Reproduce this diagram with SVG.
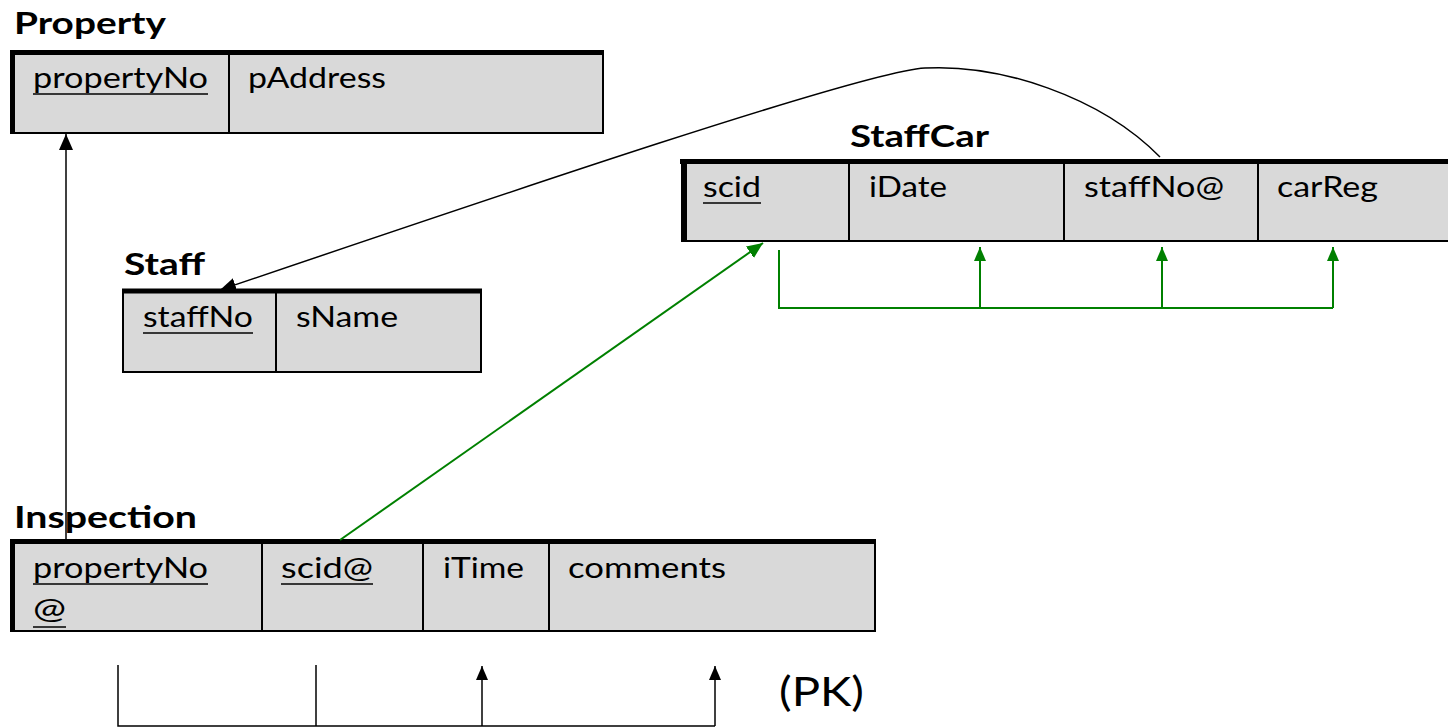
<svg xmlns="http://www.w3.org/2000/svg" width="1448" height="728" viewBox="0 0 1448 728">
  <style>
    .cell { fill: #d9d9d9; stroke: #000; stroke-width: 2; }
    .heavy { stroke: #000; stroke-width: 5; }
    .div { stroke: #000; stroke-width: 2; }
    .title { font-family: Lato, "Liberation Sans", sans-serif; font-weight: bold; font-size: 31px; fill: #000; }
    .attr { font-family: Lato, "Liberation Sans", sans-serif; font-size: 29px; fill: #000; }
    .pk { font-family: Lato, "Liberation Sans", sans-serif; font-size: 40px; fill: #000; }
    .ul { stroke: #000; stroke-width: 1.5; }
    .fk { fill: none; stroke: #000; stroke-width: 1.5; }
    .fd { fill: none; stroke: #008000; stroke-width: 2; }
    .bfd { fill: none; stroke: #000; stroke-width: 1.5; }
  </style>
  <defs>
    <marker id="arrowBlack" markerUnits="userSpaceOnUse" markerWidth="16" markerHeight="14" refX="16" refY="7" orient="auto">
      <path d="M0,0 L16,7 L0,14 z" fill="#000"/>
    </marker>
    <marker id="arrowBlackSmall" markerUnits="userSpaceOnUse" markerWidth="14" markerHeight="12" refX="14" refY="6" orient="auto">
      <path d="M0,0 L14,6 L0,12 z" fill="#000"/>
    </marker>
    <marker id="arrowGreen" markerUnits="userSpaceOnUse" markerWidth="16" markerHeight="14" refX="16" refY="7" orient="auto">
      <path d="M0,0 L16,7 L0,14 z" fill="#008000"/>
    </marker>
    <marker id="arrowGreenSmall" markerUnits="userSpaceOnUse" markerWidth="14" markerHeight="12" refX="14" refY="6" orient="auto">
      <path d="M0,0 L14,6 L0,12 z" fill="#008000"/>
    </marker>
  </defs>

  <rect width="1448" height="728" fill="#fff"/>

  <!-- Property relation -->
  <g id="property">
    <text class="title" x="14" y="34" textLength="152" lengthAdjust="spacingAndGlyphs">Property</text>
    <rect class="cell" x="12" y="52" width="591" height="81"/>
    <line class="heavy" x1="10" y1="52.5" x2="604" y2="52.5"/>
    <line class="heavy" x1="12.5" y1="50" x2="12.5" y2="134"/>
    <line class="div" x1="229" y1="52" x2="229" y2="133"/>
    <text class="attr" x="33" y="88" textLength="175" lengthAdjust="spacingAndGlyphs">propertyNo</text>
    <line class="ul" x1="33" y1="94" x2="208" y2="94"/>
    <text class="attr" x="248" y="88" textLength="138" lengthAdjust="spacingAndGlyphs">pAddress</text>
  </g>

  <!-- Staff relation -->
  <g id="staff">
    <text class="title" x="124" y="275" textLength="81" lengthAdjust="spacingAndGlyphs">Staff</text>
    <rect class="cell" x="123" y="290" width="358" height="82"/>
    <line class="heavy" x1="122" y1="291" x2="482" y2="291"/>
    <line class="div" x1="276" y1="290" x2="276" y2="372"/>
    <text class="attr" x="143" y="327" textLength="110" lengthAdjust="spacingAndGlyphs">staffNo</text>
    <line class="ul" x1="143" y1="333" x2="253" y2="333"/>
    <text class="attr" x="296" y="327" textLength="102" lengthAdjust="spacingAndGlyphs">sName</text>
  </g>

  <!-- StaffCar relation -->
  <g id="staffcar">
    <text class="title" x="850" y="147" textLength="139" lengthAdjust="spacingAndGlyphs">StaffCar</text>
    <rect class="cell" x="682" y="161" width="780" height="80"/>
    <line class="heavy" x1="680" y1="161.5" x2="1448" y2="161.5"/>
    <line class="heavy" x1="684.5" y1="159" x2="684.5" y2="242"/>
    <line class="div" x1="849" y1="161" x2="849" y2="241"/>
    <line class="div" x1="1064" y1="161" x2="1064" y2="241"/>
    <line class="div" x1="1258" y1="161" x2="1258" y2="241"/>
    <text class="attr" x="703" y="197" textLength="58" lengthAdjust="spacingAndGlyphs">scid</text>
    <line class="ul" x1="703" y1="203" x2="761" y2="203"/>
    <text class="attr" x="869" y="197" textLength="78" lengthAdjust="spacingAndGlyphs">iDate</text>
    <text class="attr" x="1084" y="197" textLength="140" lengthAdjust="spacingAndGlyphs">staffNo@</text>
    <text class="attr" x="1277" y="197" textLength="101" lengthAdjust="spacingAndGlyphs">carReg</text>
  </g>

  <!-- Inspection relation -->
  <g id="inspection">
    <text class="title" x="14" y="528" textLength="183" lengthAdjust="spacingAndGlyphs">Inspection</text>
    <rect class="cell" x="12" y="541" width="863" height="90"/>
    <line class="heavy" x1="10" y1="541.5" x2="876" y2="541.5"/>
    <line class="heavy" x1="12.5" y1="539" x2="12.5" y2="632"/>
    <line class="div" x1="262" y1="541" x2="262" y2="631"/>
    <line class="div" x1="423" y1="541" x2="423" y2="631"/>
    <line class="div" x1="549" y1="541" x2="549" y2="631"/>
    <text class="attr" x="33" y="578" textLength="175" lengthAdjust="spacingAndGlyphs">propertyNo</text>
    <line class="ul" x1="33" y1="584" x2="208" y2="584"/>
    <text class="attr" x="33" y="619" textLength="33" lengthAdjust="spacingAndGlyphs">@</text>
    <line class="ul" x1="33" y1="627" x2="66" y2="627"/>
    <text class="attr" x="281" y="578" textLength="92" lengthAdjust="spacingAndGlyphs">scid@</text>
    <line class="ul" x1="281" y1="584" x2="373" y2="584"/>
    <text class="attr" x="443" y="578" textLength="81" lengthAdjust="spacingAndGlyphs">iTime</text>
    <text class="attr" x="568" y="578" textLength="158" lengthAdjust="spacingAndGlyphs">comments</text>
  </g>

  <!-- Primary key label under Inspection -->
  <g id="pk-label">
    <text class="pk" x="779" y="706" textLength="85" lengthAdjust="spacingAndGlyphs">(PK)</text>
  </g>

  <!-- Connectors: foreign keys and functional dependencies -->
  <g id="connectors">
    <!-- Inspection.propertyNo references Property.propertyNo -->
    <line class="fk" x1="66" y1="541" x2="66" y2="134" marker-end="url(#arrowBlack)"/>
    <!-- StaffCar.staffNo references Staff.staffNo -->
    <path class="fk" d="M1160,157 C1100,96 1000,64 925,68 C865,71 500,195 220,290" marker-end="url(#arrowBlack)"/>
    <!-- Inspection.scid references StaffCar.scid -->
    <line class="fd" x1="340" y1="540" x2="763" y2="243" marker-end="url(#arrowGreen)"/>
    <!-- StaffCar: scid determines the other attributes -->
    <polyline class="fd" points="779,250 779,308 1333,308"/>
    <line class="fd" x1="980" y1="308" x2="980" y2="247" marker-end="url(#arrowGreenSmall)"/>
    <line class="fd" x1="1162" y1="308" x2="1162" y2="247" marker-end="url(#arrowGreenSmall)"/>
    <line class="fd" x1="1333" y1="308" x2="1333" y2="247" marker-end="url(#arrowGreenSmall)"/>
    <!-- Inspection: composite key determines iTime and comments -->
    <polyline class="bfd" points="118,665 118,726 715,726"/>
    <line class="bfd" x1="316" y1="665" x2="316" y2="726"/>
    <line class="bfd" x1="482" y1="726" x2="482" y2="666" marker-end="url(#arrowBlackSmall)"/>
    <line class="bfd" x1="715" y1="726" x2="715" y2="666" marker-end="url(#arrowBlackSmall)"/>
  </g>
</svg>
